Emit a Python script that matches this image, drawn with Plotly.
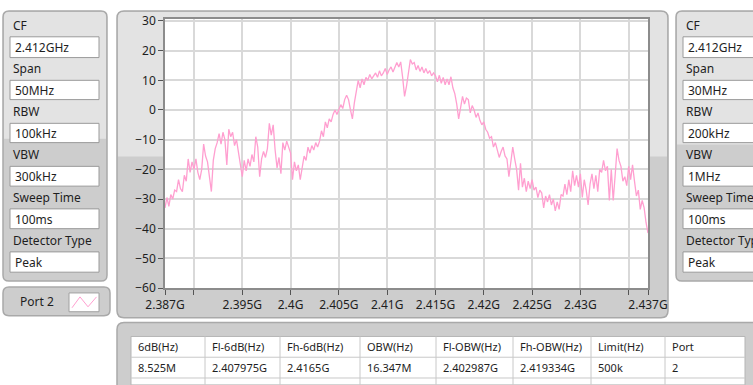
import numpy as np
import plotly.graph_objects as go

# ---------------- data ----------------
f_start_ghz = 2.387
f_stop_ghz = 2.437
power_db = [
    -33, -29.5, -32.5, -28.5, -30, -27, -27.5, -23.5, -26.5, -27.5,
    -22, -24, -16.5, -21, -17.5, -20, -16.5, -21, -23.5, -20,
    -11.5, -15.5, -17.5, -22, -27.5, -17, -13, -11, -8, -11.5,
    -7.5, -10, -18.5, -6.5, -9, -7.5, -12, -10, -14.5, -19,
    -22.5, -17, -20.5, -16.5, -19, -15, -17.5, -9, -12.5, -22.5,
    -16.5, -14, -16, -13, -4.5, -8.5, -5, -13.5, -19.5, -16,
    -21.5, -11, -13.5, -10.5, -12.5, -14.5, -23.5, -17.5, -20.5, -18.5,
    -23.5, -19, -15.5, -17, -12.5, -14.5, -12, -13.5, -11, -12.5,
    -10.5, -7, -9, -4, -6, -3, -4, -1.5, 0, -1.5,
    0.5, 1.8, 0.5, 3.5, 5, 3.5, 0, -3, 2.4, 7,
    10, 7.5, 10.5, 8.5, 11, 10, 12, 10.5, 11.5, 12.5,
    11, 13.2, 11.5, 12.5, 14, 12, 13.5, 14.5, 12.8, 14.5,
    16, 14.5, 16.2, 11, 4.6, 8, 13.5, 17, 15.5, 16,
    13.5, 15, 13, 14.5, 12.5, 14, 12.3, 13.3, 11.5, 12.5,
    11.5, 9.5, 11.7, 9, 11, 8.5, 10.5, 8.5, 11.2, 7.5,
    5.5, 2, -3, 1.5, 4.6, 2, 4, 3.5, -1, 1.5,
    0, -2.5, -1, -3.5, -5, -4, -6.5, -7.5, -9.5, -9,
    -12.5, -11, -13.5, -16, -14, -12.5, -15.5, -16.5, -22.5, -18,
    -12.5, -16.5, -20, -27, -18, -26, -23, -27.5, -24, -26.5,
    -23.5, -27, -26, -29.5, -27, -28, -33, -29, -31, -28.5,
    -32, -30, -34, -31, -33.5, -28.5, -29, -25, -28.5, -23.5,
    -27.5, -20.5, -25.5, -22, -26, -21.5, -29.5, -23.5, -27, -32,
    -25, -21.5, -26.5, -22, -27.5, -20, -21, -17, -20.5, -19,
    -30.5, -20, -30.5, -22, -13, -17, -19, -24, -22.5, -25.5,
    -19, -23.5, -18.5, -24, -29, -27, -33.5, -30.5, -33, -38, -41.5,
]
freq_ghz = np.linspace(f_start_ghz, f_stop_ghz, len(power_db))

x_tick_vals = [2.387, 2.390, 2.395, 2.400, 2.405, 2.410, 2.415, 2.420,
               2.425, 2.430, 2.435, 2.437]
x_tick_text = ['2.387G', '', '2.395G', '2.4G', '2.405G', '2.41G', '2.415G',
               '2.42G', '2.425G', '2.43G', '', '2.437G']
y_tick_vals = [30, 20, 10, 0, -10, -20, -30, -40, -50, -60]

param_labels = ['CF', 'Span', 'RBW', 'VBW', 'Sweep Time', 'Detector Type']
left_values = ['2.412GHz', '50MHz', '100kHz', '300kHz', '100ms', 'Peak']
right_values = ['2.412GHz', '30MHz', '200kHz', '1MHz', '100ms', 'Peak']

table_headers = ['6dB(Hz)', 'Fl-6dB(Hz)', 'Fh-6dB(Hz)', 'OBW(Hz)',
                 'Fl-OBW(Hz)', 'Fh-OBW(Hz)', 'Limit(Hz)', 'Port']
table_row = ['8.525M', '2.407975G', '2.4165G', '16.347M', '2.402987G',
             '2.419334G', '500k', '2']
legend_name = 'Port 2'

# ---------------- layout geometry (pixels) ----------------
W, H = 753, 385
PL, PR, PT, PB = 165, 648, 16, 288
TRACE = '#ff9fd0'
FONT = 'Noto Sans'
TXT = '#1e1e1e'
LIGHT = '#e3e3e3'
DARK = '#cdcdcd'
EDGE = '#a9a9a9'


def X(px):
    return (px - PL) / (PR - PL)


def Y(py):
    return (PB - py) / (PB - PT)


def rpath(x0, y0, x1, y1, r, top=True, bottom=True):
    rt = r if top else 0
    rb = r if bottom else 0
    p = f"M {X(x0 + rt)},{Y(y0)} L {X(x1 - rt)},{Y(y0)} "
    if rt:
        p += f"Q {X(x1)},{Y(y0)} {X(x1)},{Y(y0 + rt)} "
    p += f"L {X(x1)},{Y(y1 - rb)} "
    if rb:
        p += f"Q {X(x1)},{Y(y1)} {X(x1 - rb)},{Y(y1)} "
    p += f"L {X(x0 + rb)},{Y(y1)} "
    if rb:
        p += f"Q {X(x0)},{Y(y1)} {X(x0)},{Y(y1 - rb)} "
    p += f"L {X(x0)},{Y(y0 + rt)} "
    if rt:
        p += f"Q {X(x0)},{Y(y0)} {X(x0 + rt)},{Y(y0)} "
    return p + "Z"


shapes = []
annots = []


def add_path(path, fill, line=None, lw=1):
    shapes.append(dict(type='path', xref='paper', yref='paper', path=path,
                       fillcolor=fill, line=dict(color=line or fill, width=lw if line else 0),
                       layer='below'))


def add_rect(x0, y0, x1, y1, fill, line=None, lw=1, layer='below'):
    shapes.append(dict(type='rect', xref='paper', yref='paper',
                       x0=X(x0), x1=X(x1), y0=Y(y1), y1=Y(y0),
                       fillcolor=fill, line=dict(color=line or fill, width=lw if line else 0),
                       layer=layer))


def add_line(x0, y0, x1, y1, color, lw=1):
    shapes.append(dict(type='line', xref='paper', yref='paper',
                       x0=X(x0), x1=X(x1), y0=Y(y0), y1=Y(y1),
                       line=dict(color=color, width=lw), layer='below'))


def add_text(px, py, text, size=12, anchor='left', color=TXT):
    annots.append(dict(xref='paper', yref='paper', x=X(px), y=Y(py), text=text,
                       showarrow=False, xanchor=anchor, yanchor='middle',
                       font=dict(family=FONT, size=size, color=color)))


def param_panel(x0, x1, split, values):
    # two-tone rounded panel
    add_path(rpath(x0, 8, x1, 281, 6), DARK, EDGE, 1.5)
    add_path(rpath(x0 + 1, 9, x1 - 1, split, 5, bottom=False), LIGHT)
    label_y = [23, 66.5, 110, 153, 196.5, 240]
    box_y = [(34, 55), (78, 97.5), (121.5, 141), (165, 185), (208, 228), (251.5, 272)]
    for lab, ly, (by0, by1), val in zip(param_labels, label_y, box_y, values):
        add_text(x0 + 8, ly, lab, 12)
        add_rect(x0 + 7, by0, x1 - 8, by1, 'white', '#9a9a9a', 1)
        add_text(x0 + 10, (by0 + by1) / 2 + 0.5, val, 12)


# left parameter panel
param_panel(3, 107, 137, left_values)
# right parameter panel (runs off the canvas, as in the reference)
param_panel(676, 790, 143, right_values)

# graph frame
add_path(rpath(117, 8, 668, 318, 7), DARK, EDGE, 1.5)
add_path(rpath(118, 9, 667, 155, 6, bottom=False), LIGHT)
# white plotting surface (under grid and trace)
add_rect(PL, PT, PR, PB, 'white')

# legend box "Port 2"
add_path(rpath(3, 287, 110, 316, 6), DARK, EDGE, 1.5)
add_rect(69, 293, 99, 312, 'white', '#a0a0a0', 1)
shapes.append(dict(type='path', xref='paper', yref='paper',
                   path=f"M {X(72)},{Y(308)} L {X(80)},{Y(297)} L {X(88)},{Y(307)} L {X(96.5)},{Y(297)}",
                   line=dict(color=TRACE, width=1), layer='below'))
add_text(18, 302, legend_name, 12)

# results table panel
add_path(rpath(117, 323, 800, 400, 7), DARK, EDGE, 1.5)
add_rect(131, 337, 745, 386, 'white', '#b5b5b5', 1)
col_x = [131, 205, 280, 360, 436, 513, 591, 665, 745]
for cx in col_x[1:-1]:
    add_line(cx, 337, cx, 386, '#c8c8c8', 1)
add_line(131, 358, 745, 358, '#c8c8c8', 1)
add_line(131, 379, 745, 379, '#c8c8c8', 1)
for i, (h, v) in enumerate(zip(table_headers, table_row)):
    add_text(col_x[i] + 5, 347, h, 11)
    add_text(col_x[i] + 5, 368, v, 11)

# ---------------- figure ----------------
fig = go.Figure()
fig.add_trace(go.Scatter(x=freq_ghz, y=power_db, mode='lines',
                         line=dict(color=TRACE, width=1.3), hoverinfo='skip',
                         showlegend=False))

fig.update_layout(
    width=W, height=H,
    margin=dict(l=PL, r=W - PR, t=PT, b=H - PB, pad=0),
    paper_bgcolor='white', plot_bgcolor='white',
    shapes=shapes, annotations=annots, showlegend=False,
    xaxis=dict(range=[f_start_ghz, f_stop_ghz], tickmode='array',
               tickvals=x_tick_vals, ticktext=x_tick_text,
               showgrid=True, gridcolor='#d9d9d9', gridwidth=1.5,
               zeroline=False, showline=True, linecolor='#8c8c8c', linewidth=1.5,
               mirror=True, ticks='outside', ticklen=5, tickcolor='#555555',
               tickfont=dict(family=FONT, size=12, color=TXT)),
    yaxis=dict(range=[-60, 30.67], tickmode='array', tickvals=y_tick_vals,
               showgrid=True, gridcolor='#d9d9d9', gridwidth=1.5,
               zeroline=False, showline=True, linecolor='#8c8c8c', linewidth=1.5,
               mirror=True, ticks='outside', ticklen=5, tickcolor='#555555',
               tickfont=dict(family=FONT, size=12, color=TXT)),
)

fig.write_html('out.html', config={'displayModeBar': False},
               post_script="document.body.style.margin='0';document.body.style.overflow='hidden';")
